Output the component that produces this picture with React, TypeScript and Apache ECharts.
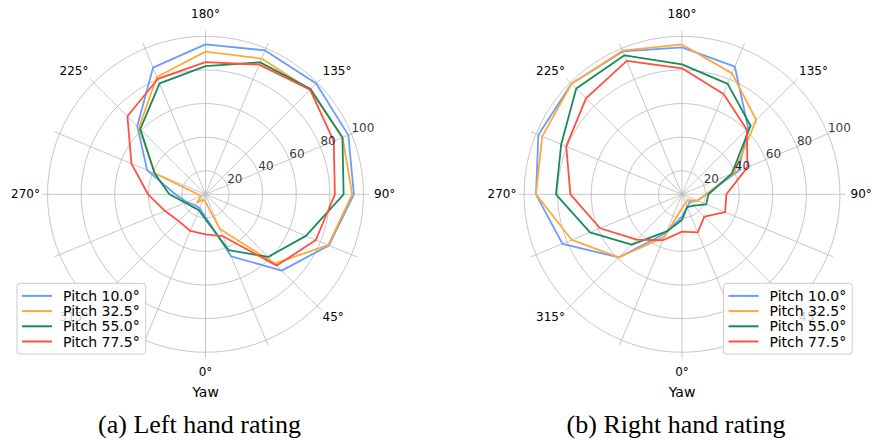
import React, { useEffect, useRef } from 'react';
import * as echarts from 'echarts';

// Yaw directions (degrees) at which ratings were sampled
const yawAngles = [0, 22.5, 45, 67.5, 90, 112.5, 135, 157.5, 180, 202.5, 225, 247.5, 270, 292.5, 315, 337.5];

const seriesNames = ['Pitch 10.0°', 'Pitch 32.5°', 'Pitch 55.0°', 'Pitch 77.5°'];
const seriesColors = ['#6a9bff', '#ffa93a', '#198a5a', '#ff5040'];

// (a) Left hand rating
const leftPitch10 = [19.5, 46, 70.2, 85.5, 94.3, 98, 99.2, 98.7, 95.2, 87.6, 63.4, 43.6, 24, 18, 15, 15];
const leftPitch32 = [10.5, 28.4, 64.3, 85, 93.3, 94.3, 94, 93.4, 90.9, 81.6, 62, 38.5, 10.5, 9, 13, 9.5];
const leftPitch55 = [20.8, 42, 58.7, 70.7, 88.2, 94.2, 94.5, 91, 82.3, 77.4, 60.9, 38.8, 27.5, 19, 16.6, 16.3];
const leftPitch77 = [29.8, 33, 66, 77.1, 83, 88.6, 94, 89.5, 84.7, 80.3, 71.7, 53.7, 40.2, 32, 28.6, 29.6];

// (b) Right hand rating
const rightPitch10 = [19.3, 14, 12.5, 15.8, 20.5, 42.3, 61.7, 88.2, 93.4, 98, 99, 98.5, 92.9, 83, 59.1, 30.9];
const rightPitch32 = [14.3, 11.5, 11, 16, 20.5, 39.6, 68.5, 83.9, 95.2, 98.5, 99, 96, 92.9, 77, 59.1, 33.4];
const rightPitch55 = [21.3, 14.2, 15.6, 21.6, 21.7, 38.1, 63.7, 77.1, 83.3, 95.5, 95, 83.8, 81, 65.3, 48.4, 29.9];
const rightPitch77 = [28.2, 30.5, 24.8, 33.8, 32.4, 48.2, 60.5, 70.6, 81, 91.9, 86.8, 80.6, 72.4, 58.8, 44.1, 35.6];

const radialMin = 6;
const radialMax = 103.3;
const radialTicks = [20, 40, 60, 80, 100];
const angleTickStep = 22.5;
const angleLabelStep = 45;
const radialLabelYaw = 112.5; // yaw at which radial tick labels sit

const panelCaptions = ['(a) Left hand rating', '(b) Right hand rating'];
const angleTitle = 'Yaw';

const panels = [
  { values: [leftPitch10, leftPitch32, leftPitch55, leftPitch77], legendLeft: 17, center: [205.5, 194.3], captionX: 199.5 },
  { values: [rightPitch10, rightPitch32, rightPitch55, rightPitch77], legendLeft: 723.5, center: [682, 194.3], captionX: 676 },
];

const gridColor = '#b9b9b9';
const font = 'DejaVu Sans';

function shiftYaw(y: number) {
  return y < radialLabelYaw ? y + 360 : y;
}

function angleLabel(v: number) {
  if (Math.abs(v % angleLabelStep) > 1e-6) return '';
  const d = Math.round(v % 360);
  const key = d === 180 ? 'top' : d === 0 ? 'bot' : d === 90 ? 'rt' : d === 270 ? 'lf' : 'dg';
  return `{${key}|${d}°}`;
}

export default function App() {
  const ref = useRef<HTMLDivElement>(null);
  useEffect(() => {
    if (!ref.current) return;
    const chart = echarts.init(ref.current, undefined, { renderer: 'svg' });

    const lbl = { color: '#000', fontFamily: font, fontSize: 12 };
    const polar = panels.map((p) => ({ center: p.center, radius: [0, 163.5] }));
    const angleAxis = panels.map((_, i) => ({
      polarIndex: i,
      type: 'value',
      min: radialLabelYaw,
      max: radialLabelYaw + 360,
      interval: angleTickStep,
      startAngle: 22.5,
      clockwise: false,
      axisLine: { show: false },
      axisTick: { show: false },
      splitLine: { show: true, lineStyle: { color: gridColor, width: 0.8 } },
      axisLabel: {
        show: true,
        interval: 0,
        margin: 2,
        ...lbl,
        formatter: angleLabel,
        rich: {
          top: { ...lbl, padding: 9 },
          bot: { ...lbl, padding: 6 },
          rt: { ...lbl, padding: 3 },
          lf: { ...lbl, padding: 0 },
          dg: { ...lbl, padding: 0 },
        },
      },
    }));
    const radiusAxis = panels.map((_, i) => ({
      polarIndex: i,
      type: 'value',
      min: radialMin,
      max: radialMax,
      splitNumber: 5,
      axisLine: { show: false },
      axisTick: { show: false },
      splitLine: {
        show: true,
        lineStyle: {
          width: 0.8,
          color: ['rgba(0,0,0,0)', gridColor, gridColor, gridColor, gridColor, gridColor, 'rgba(0,0,0,0)'],
        },
      },
      axisLabel: { show: false },
    }));

    const series: any[] = [];
    panels.forEach((p, pi) => {
      p.values.forEach((vals, si) => {
        const pts = yawAngles.map((y, k) => [vals[k], shiftYaw(y)]);
        pts.push(pts[0]);
        series.push({
          type: 'line',
          name: seriesNames[si],
          coordinateSystem: 'polar',
          polarIndex: pi,
          data: pts,
          symbol: 'none',
          clip: false,
          color: seriesColors[si],
          lineStyle: { width: 1.8, color: seriesColors[si] },
          z: 3,
        });
      });
      // radial tick labels, placed through the polar scales
      series.push({
        type: 'scatter',
        name: 'radial-ticks',
        coordinateSystem: 'polar',
        polarIndex: pi,
        data: radialTicks.map((r) => [r, radialLabelYaw]),
        symbolSize: 0,
        itemStyle: { color: 'rgba(0,0,0,0)' },
        silent: true,
        z: 5,
        label: {
          show: true,
          position: [0, -6],
          align: 'left',
          verticalAlign: 'middle',
          ...lbl,
          formatter: (prm: any) => String(prm.value[0]),
        },
      });
    });

    const legend = panels.map((p) => ({
      data: seriesNames,
      orient: 'vertical',
      left: p.legendLeft,
      top: 283.3,
      icon: 'rect',
      itemWidth: 30,
      itemHeight: 2,
      itemGap: 0,
      padding: [5, 6, 5, 5],
      backgroundColor: 'rgba(255,255,255,0.8)',
      borderColor: '#cccccc',
      borderWidth: 1,
      borderRadius: 3,
      selectedMode: false,
      textStyle: { color: '#000', fontFamily: font, fontSize: 14, lineHeight: 15.2, padding: [0, 0, 0, 6] },
      z: 10,
    }));

    const graphic: any[] = [];
    panels.forEach((p, pi) => {
      graphic.push({
        type: 'text',
        x: p.center[0],
        y: 391.7,
        style: { text: angleTitle, font: `14px "${font}"`, fill: '#000', align: 'center', verticalAlign: 'middle', textAlign: 'center', textVerticalAlign: 'middle' },
      });
      graphic.push({
        type: 'text',
        x: p.captionX,
        y: 424,
        style: { text: panelCaptions[pi], font: '26px "Liberation Serif"', fill: '#000', align: 'center', verticalAlign: 'middle', textAlign: 'center', textVerticalAlign: 'middle' },
      });
    });

    chart.setOption({
      animation: false,
      backgroundColor: '#ffffff',
      polar,
      angleAxis,
      radiusAxis,
      legend,
      series,
      graphic,
    });
    return () => chart.dispose();
  }, []);

  return <div ref={ref} style={{ position: 'fixed', left: 0, top: 0, width: 874, height: 440, background: '#fff' }} />;
}
